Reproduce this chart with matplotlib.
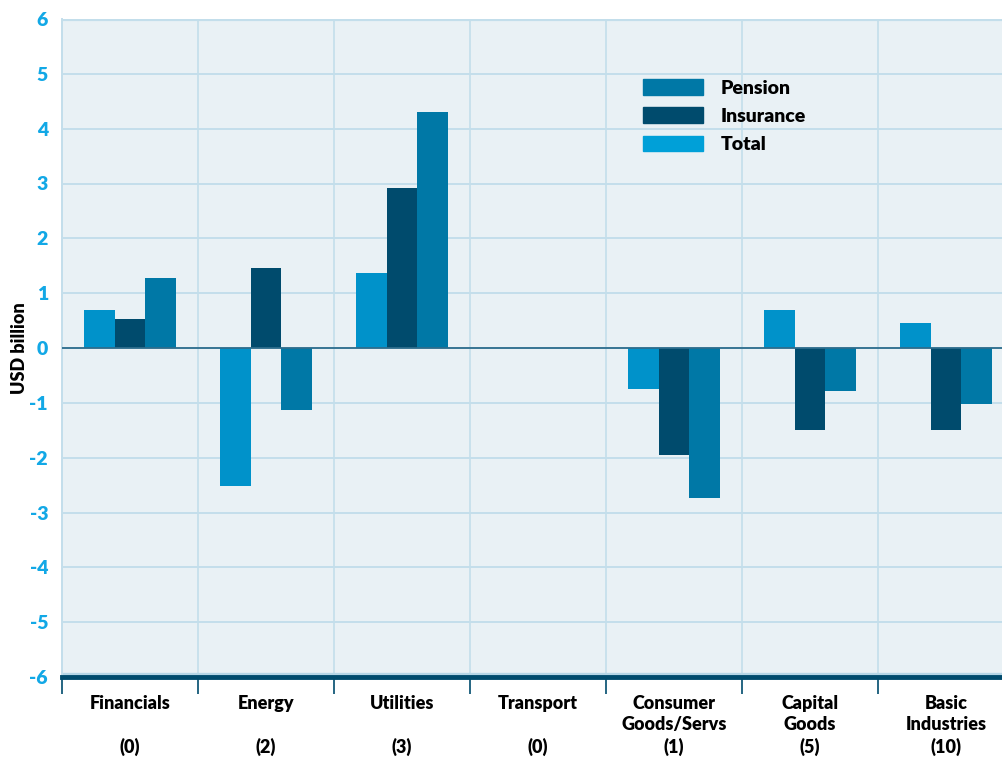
import matplotlib.pyplot as plt
import matplotlib.patches as mpatches
import numpy as np

# data
categories = ["Financials\n \n(0)", "Energy\n \n(2)", "Utilities\n \n(3)", "Transport\n \n(0)",
              "Consumer\nGoods/Servs\n(1)", "Capital\nGoods\n(5)", "Basic\nIndustries\n(10)"]
series_a = [0.69, -2.52, 1.37, 0.0, -0.74, 0.70, 0.46]
series_b = [0.52, 1.46, 2.92, 0.0, -1.95, -1.50, -1.50]
series_c = [1.28, -1.13, 4.31, 0.0, -2.74, -0.79, -1.02]
legend_labels = ["Pension", "Insurance", "Total"]

LIGHT = "#0092ca"
DARK = "#004b6d"
MID = "#0078a6"
GRID = "#c3deeb"
BG = "#e9f1f5"
TICKBLUE = "#12a8e6"

plt.rcParams["font.family"] = ["Lato", "DejaVu Sans"]

fig = plt.figure(figsize=(10.02, 7.57), dpi=100)
ax = fig.add_axes([62 / 1002, 80 / 757, 952 / 1002, 658 / 757])
ax.set_facecolor(BG)

x = np.arange(len(categories))
w = 0.225
ax.bar(x - w, series_a, w, color=LIGHT, zorder=3)
ax.bar(x, series_b, w, color=DARK, zorder=3)
ax.bar(x + w, series_c, w, color=MID, zorder=3)

ax.set_xlim(-0.5, len(categories) - 0.5)
ax.set_ylim(-6, 6)
ax.set_yticks(range(-6, 7))
ax.set_yticklabels([str(v) for v in range(-6, 7)], color=TICKBLUE,
                   fontsize=14, fontweight="heavy")
ax.tick_params(axis="y", length=0, pad=10)

ax.set_xticks(x)
ax.set_xticklabels(categories, fontsize=13, fontweight="heavy", linespacing=1.3)
ax.tick_params(axis="x", which="major", length=0, pad=13)
ax.set_xticks(np.arange(-0.5, len(categories), 1.0), minor=True)
ax.tick_params(axis="x", which="minor", length=12, width=1.2, color=DARK, direction="out")

ax.grid(axis="y", which="major", color=GRID, lw=1.4, zorder=1)
ax.grid(axis="x", which="minor", color=GRID, lw=1.2, zorder=1)
ax.axhline(0, color="#2d6d8c", lw=1.3, zorder=4)
ax.axhline(6, color=GRID, lw=3, zorder=2)
ax.axhline(-6, color="#b5d6e6", lw=6, zorder=2)

for s in ["top", "right"]:
    ax.spines[s].set_visible(False)
ax.spines["left"].set_color(GRID)
ax.spines["left"].set_linewidth(1.4)
ax.spines["bottom"].set_color(DARK)
ax.spines["bottom"].set_linewidth(3.5)

ax.set_ylabel("USD billion", fontsize=13, fontweight="heavy")
ax.yaxis.set_label_coords(-0.036, 0.5)

handles = [mpatches.Patch(color=MID, label=legend_labels[0]),
           mpatches.Patch(color=DARK, label=legend_labels[1]),
           mpatches.Patch(color="#00a0d8", label=legend_labels[2])]
ax.legend(handles=handles, loc="upper left", bbox_to_anchor=(0.592, 0.935),
          frameon=False, handlelength=3.1, handleheight=0.85,
          handletextpad=0.9, labelspacing=0.55,
          prop={"weight": "heavy", "size": 14})

fig.savefig("out.png", dpi=100)
